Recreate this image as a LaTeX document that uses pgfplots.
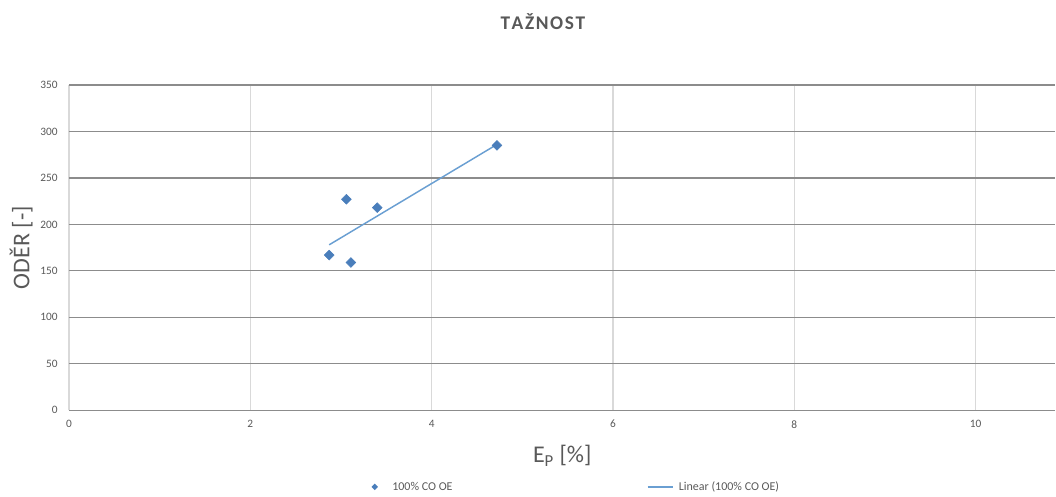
\documentclass[border=0pt]{standalone}
\usepackage{pgfplots}
\pgfplotsset{compat=1.18}
\usepackage{fontspec}
\setmainfont{Carlito}
\definecolor{ptblue}{HTML}{4A7EBB}
\definecolor{lnblue}{HTML}{6A9FD2}
\definecolor{txtgray}{HTML}{595959}
\definecolor{hgrid}{HTML}{8C8C8C}
\definecolor{vgrid}{HTML}{D9D9D9}
\begin{document}
\begin{tikzpicture}[x=1pt,y=1pt]
\begin{axis}[
  at={(0,0)}, anchor=south west,
  scale only axis,
  width=740pt, height=244pt,
  xmin=0, xmax=10.88, ymin=0, ymax=350,
  xtick={0,2,...,10}, ytick={0,50,...,350},
  axis line style={draw=none},
  axis x line*=bottom, axis y line*=left,
  major tick length=0pt,
  xmajorgrids, ymajorgrids,
  x grid style={vgrid, line width=0.9pt},
  y grid style={hgrid, line width=0.9pt},
  tick label style={font=\fontsize{8.5}{9}\selectfont, text=txtgray},
  /pgf/number format/assume math mode=true,
  xticklabel style={yshift=-4pt},
  yticklabel style={xshift=-5pt},
  xlabel={E\textsubscript{P} [\%]},
  ylabel={ODĚR [-]},
  label style={font=\fontsize{18}{20}\selectfont, text=txtgray},
  xlabel style={yshift=-6pt},
  ylabel style={yshift=-1pt},
  clip=false,
]
\addplot[only marks, mark=square*, mark size=2.6pt, mark options={rotate=45}, color=ptblue]
  coordinates {(2.87,167) (3.06,227) (3.40,218) (3.11,159) (4.72,285)};
\addplot[lnblue, line width=1.1pt]
  coordinates {(2.87,178) (4.72,286)};
\end{axis}
% title and legend
\node[font=\bfseries\fontsize{14.5}{16}\selectfont, text=txtgray] at (355.5pt,291.5pt) {T\kern1.2pt A\kern1.2pt Ž\kern1.2pt N\kern1.2pt O\kern1.2pt S\kern1.2pt T};
\fill[ptblue] (227pt,-57.5pt) -- ++(2.4pt,2.4pt) -- ++(2.4pt,-2.4pt) -- ++(-2.4pt,-2.4pt) -- cycle;
\node[anchor=west, font=\fontsize{9}{10}\selectfont, text=txtgray] at (239pt,-57.5pt) {100\% CO OE};
\draw[lnblue, line width=1.1pt] (434pt,-57.5pt) -- ++(19pt,0);
\node[anchor=west, font=\fontsize{9}{10}\selectfont, text=txtgray] at (454pt,-57.5pt) {Linear (100\% CO OE)};
\useasboundingbox (-51.75pt,-63pt) rectangle (740pt,307.75pt);
\end{tikzpicture}
\end{document}
